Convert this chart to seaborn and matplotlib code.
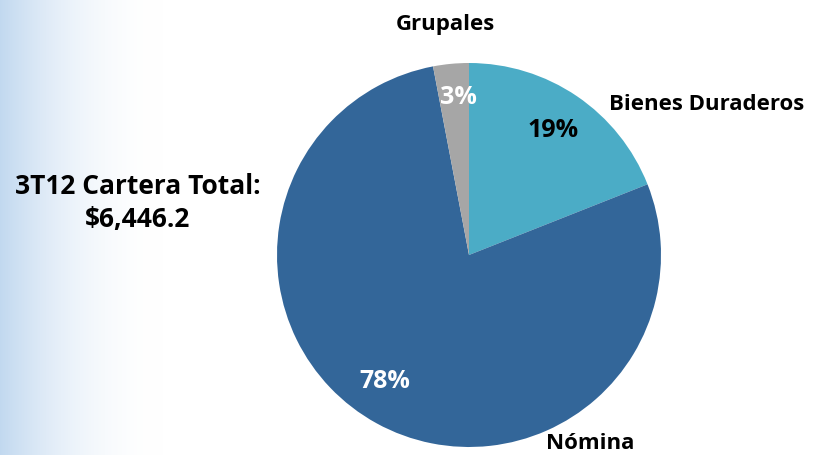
import numpy as np
import matplotlib.pyplot as plt
import seaborn as sns

# Data
segments = ['Bienes Duraderos', 'Nómina', 'Grupales']
shares = [19, 78, 3]
pct_labels = ['19%', '78%', '3%']
colors = ['#4BACC6', '#336699', '#A6A6A6']
total_title = '3T12 Cartera Total:\n$6,446.2'

sns.set_theme(style='white')
plt.rcParams['font.family'] = ['Open Sans', 'DejaVu Sans']

fig = plt.figure(figsize=(8.16, 4.55), dpi=100)

# soft blue gradient along the left edge
bg = fig.add_axes([0, 0, 1, 1], zorder=-1)
x = np.linspace(0, 1, 816)
fade = np.clip(1 - x / 0.2, 0, 1) ** 2
base = np.array([0.76, 0.85, 0.94])
img = 1 - (1 - base)[None, :] * fade[:, None]
bg.imshow(img[None, :, :], aspect='auto', extent=[0, 1, 0, 1])
bg.axis('off')

# pie axes: centre (469,255) px, radius 192 px
ax = fig.add_axes([277 / 816, 8 / 455, 384 / 816, 384 / 455])
wedges, _ = ax.pie(shares, colors=colors, startangle=90, counterclock=False,
                   radius=1, wedgeprops=dict(linewidth=0))
ax.set_xlim(-1, 1)
ax.set_ylim(-1, 1)
ax.set_aspect('equal')
ax.axis('off')

# percent labels inside slices
pct_pos = [(0.44, 0.646), (-0.44, -0.66), (-0.057, 0.818)]
pct_col = ['black', 'white', 'white']
for (px, py), t, c in zip(pct_pos, pct_labels, pct_col):
    ax.text(px, py, t, ha='center', va='center', fontsize=18,
            fontweight='bold', color=c)

# category names outside
name_pos = [(1.24, 0.786), (0.63, -0.98), (-0.125, 1.198)]
for (px, py), t in zip(name_pos, segments):
    ax.text(px, py, t, ha='center', va='center', fontsize=16,
            fontweight='bold', color='black', clip_on=False)

fig.text(138 / 816, 1 - 203 / 455, total_title, ha='center', va='center',
         fontsize=19, fontweight='bold', color='black', linespacing=1.3)

fig.savefig('out.png', dpi=100)
